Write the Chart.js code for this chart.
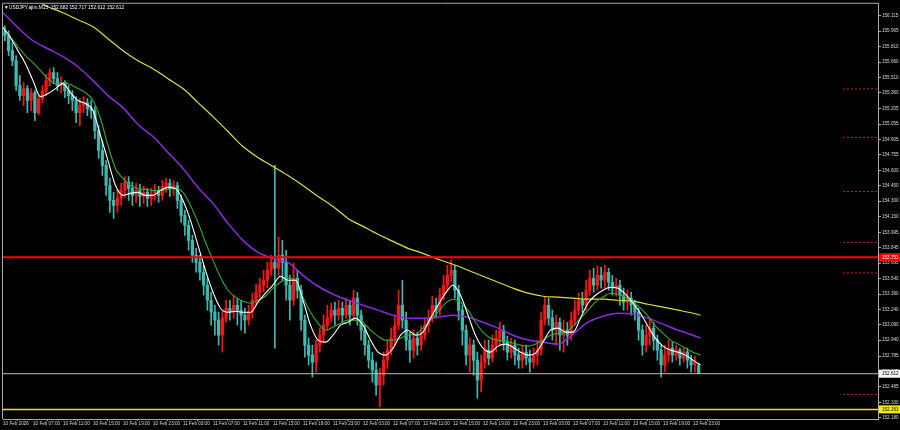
<!DOCTYPE html>
<html><head><meta charset="utf-8">
<script src="https://cdn.jsdelivr.net/npm/chart.js@4.4.1/dist/chart.umd.min.js"></script>
<style>html,body{margin:0;padding:0;background:#000;}canvas{display:block;}</style>
</head><body>
<canvas id="c" width="900" height="430"></canvas>
<script>
const chartTitle = "USDJPY.ajim,M15  152.682 152.717 152.612 152.612";
// 30-minute candles starting 10 Feb 2026 03:00 (x in hours since 10 Feb 00:00)
const candleOpen = [
155.968,155.919,155.773,155.675,155.431,155.333,155.402,155.285,155.362,155.167,
155.304,155.382,155.480,155.558,155.499,155.431,155.460,155.382,155.333,155.285,
155.167,155.236,155.265,155.206,155.187,154.991,154.796,154.650,154.454,154.308,
154.259,154.328,154.406,154.484,154.425,154.357,154.406,154.347,154.386,154.328,
154.367,154.406,154.357,154.445,154.474,154.425,154.454,154.308,154.161,154.064,
153.917,153.771,153.702,153.605,153.478,153.331,153.214,153.136,152.989,153.156,
153.253,153.214,153.282,153.234,153.185,153.136,153.214,153.331,153.409,153.478,
153.527,153.624,153.702,153.644,153.771,153.702,153.478,153.331,153.546,153.429,
153.136,152.892,152.794,152.726,152.892,152.989,153.087,153.156,153.234,153.185,
153.253,153.185,153.282,153.185,153.351,153.185,153.038,152.892,152.745,152.648,
152.501,152.599,152.745,152.843,152.960,153.087,153.282,153.136,152.941,152.843,
152.960,152.892,152.989,153.087,153.156,153.282,153.234,153.380,153.478,153.575,
153.624,153.429,153.234,153.038,152.794,152.892,152.745,152.550,152.726,152.843,
152.765,152.892,152.960,153.038,152.921,152.823,152.892,152.794,152.745,152.823,
152.765,152.726,152.794,152.843,153.136,153.282,153.156,153.038,153.116,152.989,
153.038,152.989,153.136,153.234,153.331,153.282,153.429,153.546,153.478,153.575,
153.527,153.605,153.507,153.449,153.478,153.380,153.312,153.351,153.282,153.214,
153.038,152.892,152.989,153.058,152.941,152.843,152.697,152.794,152.862,152.794,
152.843,152.765,152.823,152.745,152.697,152.690];
const candleHigh = [
156.017,155.968,155.851,155.724,155.529,155.460,155.431,155.402,155.382,155.333,
155.431,155.538,155.597,155.607,155.558,155.519,155.480,155.431,155.382,155.324,
155.304,155.324,155.304,155.285,155.226,155.040,154.894,154.698,154.523,154.386,
154.406,154.474,154.542,154.542,154.484,154.474,154.464,154.445,154.425,154.425,
154.464,154.445,154.503,154.523,154.513,154.503,154.484,154.357,154.210,154.113,
153.966,153.839,153.771,153.673,153.546,153.409,153.282,153.214,153.234,153.331,
153.331,153.380,153.351,153.331,153.253,153.282,153.400,153.488,153.546,153.624,
153.702,153.771,154.650,153.946,153.917,153.820,153.575,153.693,153.624,153.478,
153.185,152.960,152.892,152.941,153.058,153.185,153.282,153.302,153.312,153.331,
153.312,153.351,153.331,153.429,153.409,153.234,153.087,152.941,152.823,152.726,
152.667,152.823,152.941,153.058,153.185,153.429,153.527,153.214,153.019,153.038,
153.019,153.077,153.156,153.234,153.370,153.351,153.449,153.575,153.673,153.722,
153.673,153.478,153.282,153.087,152.960,152.941,152.823,152.794,152.941,152.941,
152.989,153.038,153.116,153.087,152.980,152.960,152.941,152.862,152.892,152.892,
152.843,152.862,152.941,153.214,153.370,153.351,153.234,153.185,153.156,153.136,
153.116,153.214,153.331,153.400,153.409,153.527,153.624,153.644,153.663,153.653,
153.673,153.644,153.575,153.546,153.527,153.449,153.429,153.409,153.331,153.253,
153.087,153.087,153.156,153.116,152.989,152.892,152.892,152.941,152.921,152.892,
152.862,152.862,152.862,152.794,152.784,152.717];
const candleLow = [
155.870,155.724,155.626,155.382,155.285,155.236,155.167,155.187,155.089,155.148,
155.265,155.333,155.431,155.450,155.382,155.362,155.314,155.255,155.187,155.069,
155.040,155.167,155.138,155.109,154.913,154.718,154.552,154.357,154.191,154.132,
154.191,154.259,154.337,154.308,154.259,154.288,154.249,154.279,154.249,154.259,
154.308,154.288,154.308,154.386,154.347,154.357,154.230,154.093,153.966,153.820,
153.702,153.605,153.527,153.380,153.234,153.087,152.989,152.892,152.823,153.116,
153.136,153.156,153.087,153.038,153.009,153.087,153.156,153.282,153.351,153.409,
153.449,153.575,152.862,153.575,153.527,153.331,153.136,153.282,153.351,153.038,
152.774,152.697,152.579,152.628,152.823,152.921,153.038,153.116,153.087,153.136,
153.116,153.156,153.087,153.136,153.087,152.941,152.794,152.667,152.530,152.403,
152.286,152.501,152.667,152.794,152.892,153.038,153.058,152.843,152.726,152.765,
152.794,152.843,152.941,153.019,153.116,153.156,153.185,153.331,153.429,153.507,
153.351,153.136,152.892,152.697,152.628,152.599,152.374,152.433,152.667,152.697,
152.726,152.823,152.892,152.843,152.745,152.765,152.697,152.667,152.667,152.697,
152.628,152.667,152.697,152.794,153.087,153.087,152.941,152.892,152.843,152.823,
152.892,152.941,153.087,153.185,153.214,153.234,153.380,153.409,153.429,153.449,
153.449,153.429,153.380,153.370,153.282,153.234,153.234,153.185,153.136,152.941,
152.794,152.823,152.892,152.843,152.745,152.579,152.628,152.726,152.726,152.745,
152.697,152.726,152.667,152.628,152.628,152.612];
const candleClose = [
155.919,155.773,155.675,155.431,155.333,155.402,155.285,155.362,155.167,155.304,
155.382,155.480,155.558,155.499,155.431,155.460,155.382,155.333,155.285,155.167,
155.236,155.265,155.206,155.187,154.991,154.796,154.650,154.454,154.308,154.259,
154.328,154.406,154.484,154.425,154.357,154.406,154.347,154.386,154.328,154.367,
154.406,154.357,154.445,154.474,154.425,154.454,154.308,154.161,154.064,153.917,
153.771,153.702,153.605,153.478,153.331,153.214,153.136,152.989,153.156,153.253,
153.214,153.282,153.234,153.185,153.136,153.214,153.331,153.409,153.478,153.527,
153.624,153.702,153.644,153.771,153.702,153.478,153.331,153.546,153.429,153.136,
152.892,152.794,152.726,152.892,152.989,153.087,153.156,153.234,153.185,153.253,
153.185,153.282,153.185,153.351,153.185,153.038,152.892,152.745,152.648,152.501,
152.599,152.745,152.843,152.960,153.087,153.282,153.136,152.941,152.843,152.960,
152.892,152.989,153.087,153.156,153.282,153.234,153.380,153.478,153.575,153.624,
153.429,153.234,153.038,152.794,152.892,152.745,152.550,152.726,152.843,152.765,
152.892,152.960,153.038,152.921,152.823,152.892,152.794,152.745,152.823,152.765,
152.726,152.794,152.843,153.136,153.282,153.156,153.038,153.116,152.989,153.038,
152.989,153.136,153.234,153.331,153.282,153.429,153.546,153.478,153.575,153.527,
153.605,153.507,153.449,153.478,153.380,153.312,153.351,153.282,153.214,153.038,
152.892,152.989,153.058,152.941,152.843,152.697,152.794,152.862,152.794,152.843,
152.765,152.823,152.745,152.697,152.726,152.612];

// Moving averages
const whiteMA = [ // hourly, 03:00 10 Feb .. 00:00 14 Feb
155.998,155.900,155.773,155.646,155.480,155.323,155.353,155.402,155.451,155.362,
155.285,155.256,155.187,154.942,154.698,154.454,154.357,154.377,154.386,154.357,
154.357,154.406,154.435,154.425,154.308,154.113,153.868,153.624,153.409,153.253,
153.214,153.224,153.214,153.214,153.312,153.400,153.478,153.566,153.527,153.527,
153.331,153.087,152.941,152.921,152.989,153.087,153.116,153.156,153.087,152.941,
152.823,152.794,152.862,152.989,153.038,152.989,153.019,153.156,153.282,153.400,
153.478,153.380,153.185,152.989,152.862,152.823,152.882,152.902,152.872,152.823,
152.794,152.814,152.921,153.038,153.058,153.019,153.019,153.156,153.302,153.380,
153.429,153.458,153.449,153.390,153.302,153.204,153.077,152.960,152.882,152.843,
152.823,152.794,152.745,152.697];
const greenMA = [ // hourly
155.998,155.909,155.812,155.724,155.655,155.577,155.499,155.451,155.460,155.441,
155.402,155.362,155.285,155.109,154.845,154.620,154.523,154.454,154.425,154.416,
154.406,154.406,154.416,154.425,154.386,154.259,154.093,153.898,153.722,153.556,
153.429,153.361,153.322,153.302,153.331,153.370,153.449,153.507,153.546,153.527,
153.361,153.214,153.107,153.038,153.068,153.107,153.136,153.136,153.116,153.038,
152.980,152.941,152.941,152.960,152.989,152.999,153.058,153.136,153.214,153.302,
153.341,153.312,153.234,153.116,153.019,152.960,152.941,152.931,152.911,152.892,
152.882,152.902,152.941,152.989,153.009,153.019,153.077,153.156,153.234,153.312,
153.361,153.400,153.390,153.361,153.312,153.253,153.175,153.077,153.009,152.941,
152.902,152.862,152.823,152.794];
const purpleMA = [ // every 2 hours from 03:00, last at 00:00 14 Feb
156.144,155.998,155.870,155.792,155.714,155.616,155.480,155.333,155.216,155.050,
154.933,154.777,154.620,154.435,154.279,154.083,153.917,153.800,153.741,153.702,
153.575,153.468,153.390,153.331,153.282,153.234,153.185,153.156,153.156,153.165,
153.185,153.165,153.116,153.058,152.989,152.941,152.921,152.902,152.999,153.116,
153.175,153.204,153.195,153.156,153.097,153.038,152.989,152.960];
const yellowMA = [ // every 2 hours from 07:00, last at 00:00 14 Feb
156.281,156.202,156.144,156.075,156.007,155.890,155.773,155.675,155.597,155.499,
155.402,155.265,155.128,154.982,154.835,154.728,154.640,154.552,154.454,154.347,
154.249,154.132,154.054,153.976,153.907,153.839,153.790,153.732,153.683,153.624,
153.566,153.507,153.449,153.400,153.370,153.361,153.351,153.341,153.341,153.331,
153.322,153.292,153.263,153.234,153.204,153.185];

const xTickHours = [3,7,11,15,19,23,27,31,35,39,43,47,51,55,59,63,67,71,75,79,83,87,91,95];
const xTickLabels = ["10 Feb 2026","10 Feb 07:00","10 Feb 11:00","10 Feb 15:00","10 Feb 19:00","10 Feb 23:00",
"11 Feb 03:00","11 Feb 07:00","11 Feb 11:00","11 Feb 15:00","11 Feb 19:00","11 Feb 23:00",
"12 Feb 03:00","12 Feb 07:00","12 Feb 11:00","12 Feb 15:00","12 Feb 19:00","12 Feb 23:00",
"13 Feb 03:00","13 Feb 07:00","13 Feb 11:00","13 Feb 15:00","13 Feb 19:00","13 Feb 23:00"];
const yTickValues = [156.115,155.965,155.810,155.660,155.510,155.360,155.205,155.055,154.905,154.755,154.600,
154.450,154.300,154.150,153.995,153.845,153.695,153.540,153.390,153.240,153.090,152.940,152.785,152.635,
152.485,152.330,152.180];
const redLevel = 153.751;
const bidLevel = 152.612;
const yellowLevel = 152.263;
const dottedLevels = [155.399,154.926,154.396,153.898,153.598,152.410];

// ---- build ----
const X_MIN = 3, X_MAX = 119.667, Y_MIN = 152.169, Y_MAX = 156.232;
const UP = '#ff1414', DOWN = '#3fb8b2';
const cColors = candleOpen.map((o,i)=> candleClose[i] >= o ? UP : DOWN);
const cHour = i => 3.25 + 0.5*i;
const bodies = candleOpen.map((o,i)=>({x:cHour(i), y:[o, candleClose[i]]}));
const wicks = candleOpen.map((o,i)=>({x:cHour(i), y:[candleLow[i], candleHigh[i]]}));
const hourly = (arr, start, step) => arr.map((v,i)=>({x: Math.min(start+i*step, 96), y:v}));
const lvl = (v, x0, x1) => [{x:x0,y:v},{x:x1,y:v}];

const ma = (data, color, w, order) => ({type:'line', data, borderColor:color, borderWidth:w, pointRadius:0,
  cubicInterpolationMode:'monotone', order, clip:true});

const datasets = [
  {type:'bar', data:wicks, backgroundColor:cColors, barThickness:1, grouped:false, order:20, borderWidth:0},
  {type:'bar', data:bodies, backgroundColor:cColors, barThickness:2.6, grouped:false, order:19, borderWidth:0, minBarLength:1},
  ma(hourly(yellowMA,7,2), '#dede3a', 1.2, 9),
  ma(hourly(purpleMA,3,2), '#8a2be2', 1.5, 8),
  ma(hourly(greenMA,3,1), '#2fae2f', 1.1, 7),
  ma(hourly(whiteMA,3,1), '#ffffff', 1.1, 6),
  {type:'line', data:lvl(redLevel,X_MIN,X_MAX), borderColor:'#ff0000', borderWidth:2, pointRadius:0, order:1},
  {type:'line', data:lvl(bidLevel,X_MIN,X_MAX), borderColor:'#bdbdbd', borderWidth:1, pointRadius:0, order:2},
  {type:'line', data:lvl(yellowLevel,X_MIN,X_MAX), borderColor:'#e8e800', borderWidth:1.5, pointRadius:0, order:2},
  ...dottedLevels.map(v=>({type:'line', data:lvl(v,115,119.5), borderColor:'#d01c1c', borderWidth:1, borderDash:[2,2], pointRadius:0, order:3}))
];

const font = {family:'Liberation Sans, Arial, sans-serif', size:4.6};
const axisCol = '#a8a8a8';

const decor = {
  id:'decor',
  beforeDraw(chart){
    const c = chart.ctx; c.save(); c.fillStyle='#000'; c.fillRect(0,0,chart.width,chart.height); c.restore();
  },
  afterDraw(chart){
    const c = chart.ctx, a = chart.chartArea, ys = chart.scales.y;
    c.save();
    c.strokeStyle = axisCol; c.lineWidth = 1;
    c.beginPath(); c.moveTo(a.left-0.5, a.top-0.5); c.lineTo(a.left-0.5, a.bottom); c.moveTo(a.left-0.5,a.top-0.5); c.lineTo(a.right, a.top-0.5); c.stroke();
    // price labels on axis
    const box = (v, bg, fg) => {
      const y = ys.getPixelForValue(v);
      c.fillStyle = bg; c.fillRect(a.right+1, y-4, chart.width-a.right-1, 8);
      c.fillStyle = fg; c.font = '4.6px Liberation Sans, Arial, sans-serif'; c.textBaseline='middle'; c.textAlign='left';
      c.fillText(v.toFixed(3), a.right+4, y+0.3);
    };
    box(redLevel, '#ff0000', '#ffffff');
    box(bidLevel, '#f4f4f4', '#000000');
    box(yellowLevel, '#f0f000', '#000000');
    // title
    c.fillStyle = '#ffffff'; c.font = '4.8px Liberation Sans, Arial, sans-serif'; c.textBaseline='middle'; c.textAlign='left';
    c.fillText('\u25BC', a.left+1, a.top+3.5);
    c.fillText(chartTitle, a.left+6, a.top+3.5);
    c.restore();
  }
};

new Chart(document.getElementById('c'), {
  type:'bar',
  data:{datasets},
  options:{
    responsive:false, animation:false, devicePixelRatio:1,
    layout:{padding:{left:3, top:3, right:0, bottom:0}},
    plugins:{legend:{display:false}, tooltip:{enabled:false}},
    scales:{
      x:{type:'linear', min:X_MIN, max:X_MAX, offset:false,
        grid:{display:true, drawOnChartArea:false, drawTicks:true, tickLength:2, color:axisCol},
        border:{display:true, color:axisCol},
        ticks:{autoSkip:false, maxRotation:0, minRotation:0, align:'start', color:'#d8d8d8', font, padding:0,
          callback:(v,i)=> xTickLabels[i]},
        afterBuildTicks:s=>{ s.ticks = xTickHours.map(v=>({value:v})); },
        afterFit:s=>{ s.height = 11; }
      },
      y:{type:'linear', position:'right', min:Y_MIN, max:Y_MAX,
        grid:{display:true, drawOnChartArea:false, drawTicks:true, tickLength:3, color:axisCol},
        border:{display:true, color:axisCol},
        ticks:{color:'#d8d8d8', font, padding:1, callback:v=> Number(v).toFixed(3)},
        afterBuildTicks:s=>{ s.ticks = yTickValues.map(v=>({value:v})); },
        afterFit:s=>{ s.width = 22; }
      }
    }
  },
  plugins:[decor]
});
</script>
</body></html>
